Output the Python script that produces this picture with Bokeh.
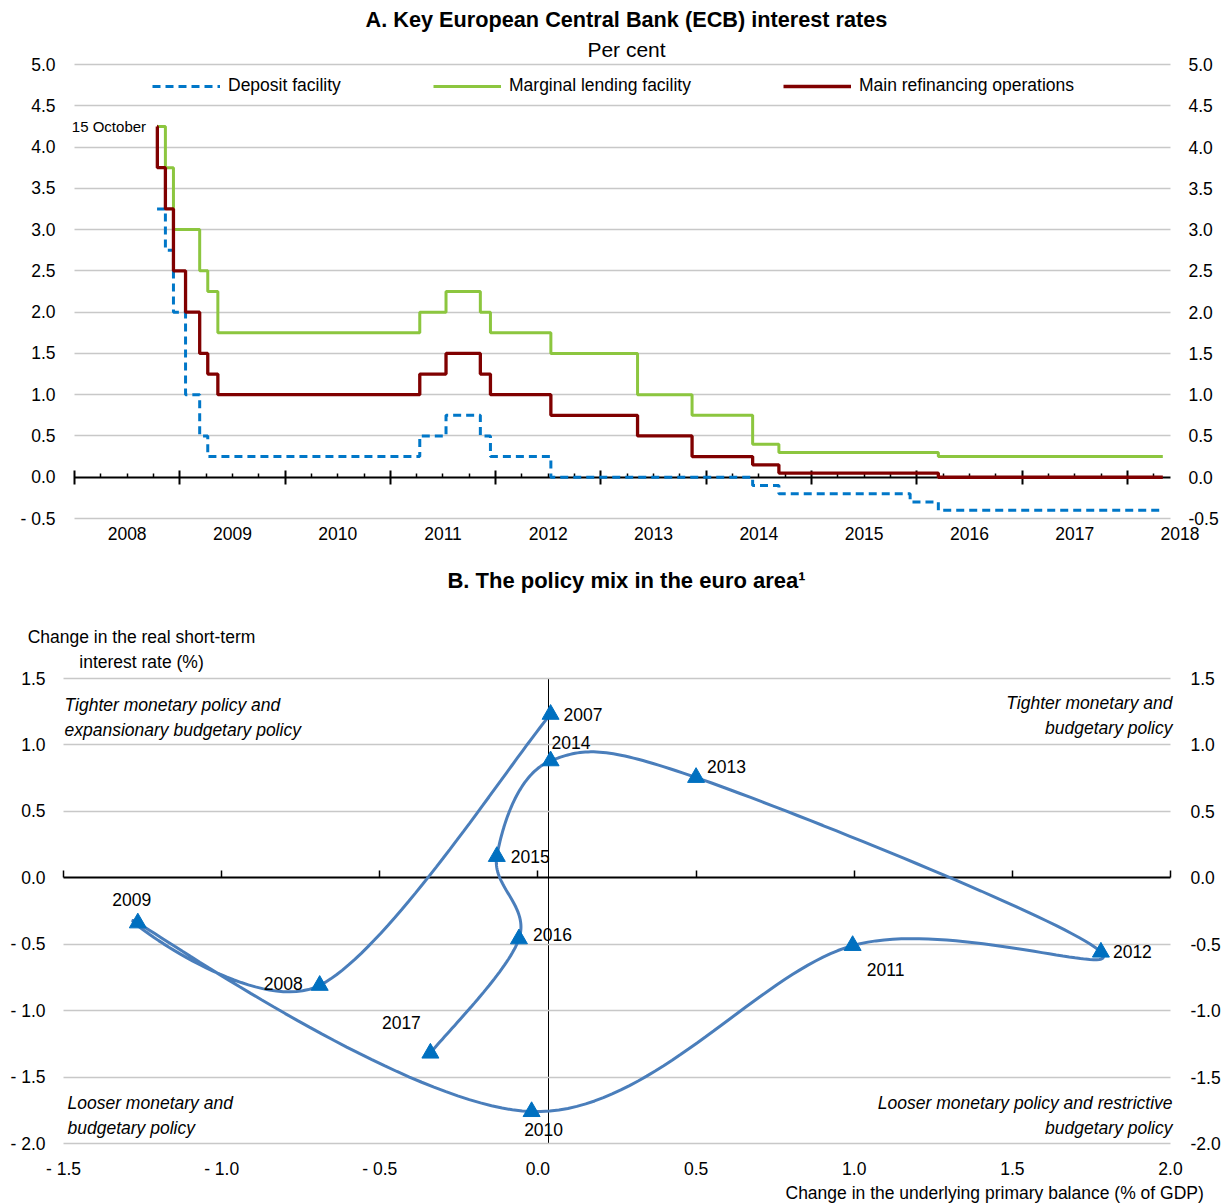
import numpy as np
import pandas as pd
from bokeh.plotting import figure
from bokeh.layouts import column
from bokeh.models import (Range1d, LinearAxis, FixedTicker, Label, Legend, LegendItem,
                          Grid, CustomJSTickFormatter)
from bokeh.embed import file_html
from bokeh.resources import INLINE

# ---------------- Panel A data: ECB key rates (per cent) ----------------
change_dates = ["2008-10-14", "2008-10-15", "2008-11-12", "2008-12-10", "2009-01-21",
                "2009-03-11", "2009-04-08", "2009-05-13", "2011-04-13", "2011-07-13",
                "2011-11-09", "2011-12-14", "2012-07-11", "2013-05-08", "2013-11-13",
                "2014-06-11", "2014-09-10", "2015-12-09", "2016-03-16", "2018-05-04"]
deposit_facility = [3.25, 3.25, 2.75, 2.00, 1.00, 0.50, 0.25, 0.25, 0.50, 0.75,
                    0.50, 0.25, 0.00, 0.00, 0.00, -0.10, -0.20, -0.30, -0.40, -0.40]
marginal_lending = [4.25, 4.25, 3.75, 3.00, 3.00, 2.50, 2.25, 1.75, 2.00, 2.25,
                    2.00, 1.75, 1.50, 1.00, 0.75, 0.40, 0.30, 0.30, 0.25, 0.25]
main_refinancing = [4.25, 3.75, 3.25, 2.50, 2.00, 1.50, 1.25, 1.00, 1.25, 1.50,
                    1.25, 1.00, 0.75, 0.50, 0.25, 0.15, 0.05, 0.05, 0.00, 0.00]
series_names = ["Deposit facility", "Marginal lending facility", "Main refinancing operations"]
a_years = [2008, 2009, 2010, 2011, 2012, 2013, 2014, 2015, 2016, 2017, 2018]
a_year_labels = ["2008", "2009", "2010", "2011", "2012", "2013", "2014", "2015", "2016", "2017", "2018"]
a_yticks = [-0.5, 0.0, 0.5, 1.0, 1.5, 2.0, 2.5, 3.0, 3.5, 4.0, 4.5, 5.0]
a_ylabels_left = ["- 0.5", "0.0", "0.5", "1.0", "1.5", "2.0", "2.5", "3.0", "3.5", "4.0", "4.5", "5.0"]
a_ylabels_right = ["-0.5", "0.0", "0.5", "1.0", "1.5", "2.0", "2.5", "3.0", "3.5", "4.0", "4.5", "5.0"]
A_XLIM = (2008.0, 2018.41)
A_YLIM = (-0.5, 5.0)

# ---------------- Panel B data: policy mix ----------------
b_years = ["2007", "2008", "2009", "2010", "2011", "2012", "2013", "2014", "2015", "2016", "2017"]
primary_balance_change = [0.04, -0.69, -1.265, -0.02, 0.995, 1.78, 0.50, 0.04, -0.13, -0.06, -0.34]
real_rate_change = [1.23, -0.81, -0.34, -1.76, -0.51, -0.56, 0.755, 0.88, 0.16, -0.46, -1.32]
b_xticks = [-1.5, -1.0, -0.5, 0.0, 0.5, 1.0, 1.5, 2.0]
b_xlabels = ["- 1.5", "- 1.0", "- 0.5", "0.0", "0.5", "1.0", "1.5", "2.0"]
b_yticks = [-2.0, -1.5, -1.0, -0.5, 0.0, 0.5, 1.0, 1.5]
b_ylabels_left = ["- 2.0", "- 1.5", "- 1.0", "- 0.5", "0.0", "0.5", "1.0", "1.5"]
b_ylabels_right = ["-2.0", "-1.5", "-1.0", "-0.5", "0.0", "0.5", "1.0", "1.5"]
B_XLIM = (-1.5, 2.0)
B_YLIM = (-2.0, 1.5)
B_VLINE_X = 0.035

# label offsets (pixels) and alignment for the year labels of panel B (style only)
b_label_dx = [13, -17, -6, 12, 33, 12, 11, 1, 14, 14, -29]
b_label_dy = [0, 2, 23, -18, -24, 1, 11, 18, 0, 4, 31]
b_label_align = ["left", "right", "center", "center", "center", "left", "left", "left", "left", "left", "center"]

FONT = "Liberation Sans"
FS = "17.5px"
GRID = "#C8C8C8"
BLUE_A = "#0077C8"
GREEN_A = "#8CC63F"
RED_A = "#800000"
CURVE_B = "#4A7EBB"
MARK_B = "#0070C0"
W = 1226


def dec_year(s):
    d = pd.Timestamp(s)
    start = pd.Timestamp(year=d.year, month=1, day=1)
    end = pd.Timestamp(year=d.year + 1, month=1, day=1)
    return d.year + (d - start) / (end - start)


def make_panel(height, xlim, ylim, px_left, px_right, px_top, px_bottom):
    """Figure whose frame fills the whole canvas; the plot area xlim/ylim maps to
    the pixel box (px_left..px_right, px_top..px_bottom)."""
    kx = (xlim[1] - xlim[0]) / (px_right - px_left)
    ky = (ylim[1] - ylim[0]) / (px_bottom - px_top)
    xr = Range1d(xlim[0] - px_left * kx, xlim[1] + (W - px_right) * kx)
    yr = Range1d(ylim[0] - (height - px_bottom) * ky, ylim[1] + px_top * ky)
    p = figure(width=W, height=height, output_backend="svg", toolbar_location=None,
               x_range=xr, y_range=yr, x_axis_location=None, y_axis_location=None,
               min_border_left=0, min_border_right=0, min_border_top=0, min_border_bottom=0)
    p.center = [c for c in p.center if not isinstance(c, Grid)]
    p.outline_line_color = None
    p.background_fill_color = "white"
    p.border_fill_color = "white"
    return p, (lambda px: xlim[0] + (px - px_left) * kx)


def value_axis(ticks, labels, standoff, fixed):
    ax = LinearAxis(ticker=FixedTicker(ticks=ticks, minor_ticks=[]),
                    major_label_overrides={t: l for t, l in zip(ticks, labels)},
                    fixed_location=fixed)
    ax.axis_line_color = None
    ax.major_tick_line_color = None
    ax.minor_tick_line_color = None
    ax.major_tick_in = 0
    ax.major_tick_out = 0
    ax.major_label_standoff = standoff
    ax.major_label_text_font = FONT
    ax.major_label_text_font_size = FS
    ax.major_label_text_color = "black"
    return ax


def lbl(x, y, text, dx=0, dy=0, align="left", size=FS, style="normal"):
    return Label(x=x, y=y, x_offset=dx, y_offset=dy, text=text, text_align=align,
                 text_baseline="middle", text_font=FONT, text_font_size=size,
                 text_font_style=style, text_color="black")


# ======================= Panel A =======================
HA = 560
pa, a_x_px = make_panel(HA, A_XLIM, A_YLIM, 74, 1170, 64, 518)
xa = [dec_year(d) for d in change_dates]

pa.add_layout(Grid(dimension=1, ticker=FixedTicker(ticks=[t for t in a_yticks if t != 0.0]),
                   cross_bounds=A_XLIM, grid_line_color=GRID, grid_line_width=1.3))

pa.add_layout(value_axis(a_yticks, a_ylabels_left, 19, A_XLIM[0]), "left")
pa.add_layout(value_axis(a_yticks, a_ylabels_right, 18, A_XLIM[1]), "right")
mid_years = [y + 0.5 for y in a_years]
pa.add_layout(value_axis(mid_years, a_year_labels, 8, A_YLIM[0]), "below")

quarters = [y + q / 4 for y in a_years[:-1] for q in (1, 2, 3)] + [a_years[-1] + 0.25]
x0a = LinearAxis(fixed_location=0, bounds=A_XLIM,
                 ticker=FixedTicker(ticks=a_years, minor_ticks=quarters),
                 formatter=CustomJSTickFormatter(code="return ''"))
x0a.axis_line_color = "black"
x0a.axis_line_width = 2
x0a.major_tick_line_color = "black"
x0a.major_tick_line_width = 2
x0a.major_tick_in = 7
x0a.major_tick_out = 7
x0a.minor_tick_line_color = "black"
x0a.minor_tick_line_width = 1.5
x0a.minor_tick_in = 4
x0a.minor_tick_out = 0
x0a.level = "underlay"
pa.add_layout(x0a, "below")

r_dep = pa.step(xa, deposit_facility, mode="after", line_color=BLUE_A, line_width=3, line_dash="8 5")
r_mlf = pa.step(xa, marginal_lending, mode="after", line_color=GREEN_A, line_width=3)
r_mro = pa.step(xa, main_refinancing, mode="after", line_color=RED_A, line_width=3.3)

legend_x = [152, 433, 783]
for r, name, lx in zip([r_dep, r_mlf, r_mro], series_names, legend_x):
    lg = Legend(items=[LegendItem(label=name, renderers=[r])], location=(lx, HA - 96),
                orientation="horizontal", glyph_width=68, glyph_height=20, label_standoff=8,
                padding=0, margin=0, spacing=0, border_line_alpha=0, background_fill_alpha=0,
                label_text_font=FONT, label_text_font_size=FS, label_height=20,
                label_text_color="black")
    pa.add_layout(lg)

pa.add_layout(lbl(xa[0], main_refinancing[0], "15 October", dx=-11, align="right", size="15px"))
pa.add_layout(lbl(a_x_px(626), A_YLIM[1], "A. Key European Central Bank (ECB) interest rates",
                  dy=45, align="center", size="21.7px", style="bold"))
pa.add_layout(lbl(a_x_px(626), A_YLIM[1], "Per cent", dy=15, align="center", size="21px"))

# ======================= Panel B =======================
HB = 644
pb, b_x_px = make_panel(HB, B_XLIM, B_YLIM, 63, 1170, 118, 583)

pb.add_layout(Grid(dimension=1, ticker=FixedTicker(ticks=[t for t in b_yticks if t != 0.0]),
                   cross_bounds=B_XLIM, grid_line_color=GRID, grid_line_width=1.3))

pb.add_layout(value_axis(b_yticks, b_ylabels_left, 18, B_XLIM[0]), "left")
pb.add_layout(value_axis(b_yticks, b_ylabels_right, 20, B_XLIM[1]), "right")
pb.add_layout(value_axis(b_xticks, b_xlabels, 15, B_YLIM[0]), "below")

x0b = LinearAxis(fixed_location=0, bounds=B_XLIM, ticker=FixedTicker(ticks=b_xticks, minor_ticks=[]),
                 formatter=CustomJSTickFormatter(code="return ''"))
x0b.axis_line_color = "black"
x0b.axis_line_width = 2
x0b.major_tick_line_color = "black"
x0b.major_tick_line_width = 1.5
x0b.major_tick_in = 7
x0b.major_tick_out = 0
x0b.minor_tick_line_color = None
x0b.level = "underlay"
pb.add_layout(x0b, "below")

vline = LinearAxis(fixed_location=B_VLINE_X, bounds=B_YLIM, ticker=FixedTicker(ticks=[], minor_ticks=[]))
vline.axis_line_color = "black"
vline.axis_line_width = 1
vline.major_tick_line_color = None
vline.minor_tick_line_color = None
vline.level = "underlay"
pb.add_layout(vline, "left")


def smooth_path(xs, ys, n=40):
    P = np.column_stack([xs, ys]).astype(float)
    Pe = np.vstack([P[0], P, P[-1]])
    t = np.linspace(0, 1, n)[:, None]
    segs = []
    for i in range(len(P) - 1):
        p0, p1, p2, p3 = Pe[i], Pe[i + 1], Pe[i + 2], Pe[i + 3]
        c1 = p1 + (p2 - p0) / 6.0
        c2 = p2 - (p3 - p1) / 6.0
        seg = (1 - t) ** 3 * p1 + 3 * (1 - t) ** 2 * t * c1 + 3 * (1 - t) * t ** 2 * c2 + t ** 3 * p2
        segs.append(seg if i == 0 else seg[1:])
    return np.vstack(segs)


path = smooth_path(primary_balance_change, real_rate_change)
pb.line(path[:, 0], path[:, 1], line_color=CURVE_B, line_width=3)
pb.scatter(primary_balance_change, real_rate_change, marker="triangle", size=17,
           fill_color=MARK_B, line_color=MARK_B)

for yr, xv, yv, dx, dy, al in zip(b_years, primary_balance_change, real_rate_change,
                                  b_label_dx, b_label_dy, b_label_align):
    pb.add_layout(lbl(xv, yv, yr, dx=dx, dy=dy, align=al))

quad = [
    ("Tighter monetary policy and", B_XLIM[0], B_YLIM[1], 1, -26, "left"),
    ("expansionary budgetary policy", B_XLIM[0], B_YLIM[1], 1, -51, "left"),
    ("Tighter monetary and", B_XLIM[1], B_YLIM[1], 2, -24, "right"),
    ("budgetary policy", B_XLIM[1], B_YLIM[1], 2, -49, "right"),
    ("Looser monetary and", B_XLIM[0], B_YLIM[0], 4, 41, "left"),
    ("budgetary policy", B_XLIM[0], B_YLIM[0], 4, 16, "left"),
    ("Looser monetary policy and restrictive", B_XLIM[1], B_YLIM[0], 2, 41, "right"),
    ("budgetary policy", B_XLIM[1], B_YLIM[0], 2, 16, "right"),
]
for txt, qx, qy, dx, dy, al in quad:
    pb.add_layout(lbl(qx, qy, txt, dx=dx, dy=dy, align=al, style="italic"))

pb.add_layout(lbl(b_x_px(626), B_YLIM[1], "B. The policy mix in the euro area\u00b9",
                  dy=98, align="center", size="22px", style="bold"))
pb.add_layout(lbl(b_x_px(141), B_YLIM[1], "Change in the real short-term", dy=42, align="center"))
pb.add_layout(lbl(b_x_px(141), B_YLIM[1], "interest rate (%)", dy=17, align="center"))
pb.add_layout(lbl(b_x_px(785), B_YLIM[0], "Change in the underlying primary balance (% of GDP)",
                  dy=-49, align="left"))

layout = column(pa, pb, spacing=0)
open("out.html", "w").write(file_html(layout, INLINE))
